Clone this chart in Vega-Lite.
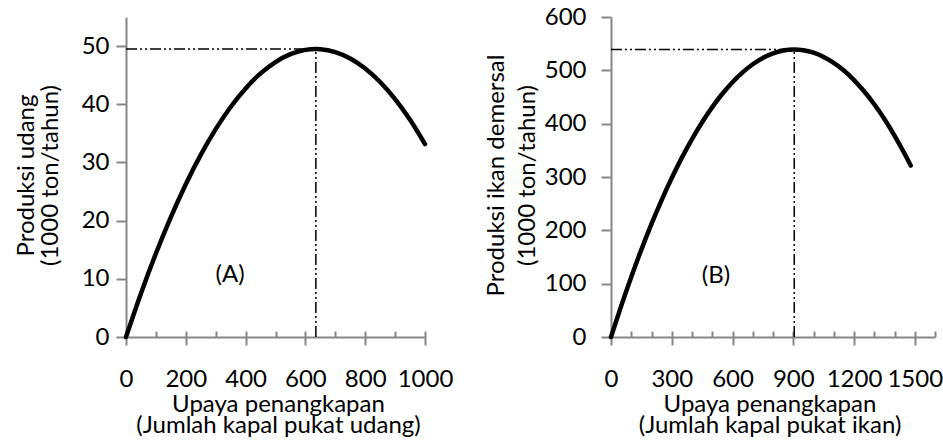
{
  "$schema": "https://vega.github.io/schema/vega-lite/v6.json",
  "background": "white",
  "padding": {"left": 14, "top": 5, "right": 5, "bottom": 5},
  "bounds": "flush",
  "spacing": 186,
  "config": {
    "font": "Lato",
    "view": {"stroke": null},
    "axis": {
      "labelFont": "Lato", "labelFontSize": 24, "labelColor": "#000000",
      "titleFont": "Lato", "titleFontSize": 24, "titleColor": "#000000", "titleFontWeight": "normal",
      "domainColor": "#868686", "domainWidth": 2, "tickColor": "#868686", "tickWidth": 2,
      "grid": false, "labelFlush": false, "labelOverlap": false, "labelBound": false, "format": "d"
    }
  },
  "datasets": {
    "shrimp": [
      {"E": 0, "Y": 0}, {"E": 50, "Y": 7.49}, {"E": 100, "Y": 14.36}, {"E": 150, "Y": 20.62},
      {"E": 200, "Y": 26.27}, {"E": 250, "Y": 31.3}, {"E": 300, "Y": 35.72}, {"E": 350, "Y": 39.53},
      {"E": 400, "Y": 42.72}, {"E": 450, "Y": 45.3}, {"E": 500, "Y": 47.26}, {"E": 550, "Y": 48.61},
      {"E": 600, "Y": 49.35}, {"E": 635, "Y": 49.5}, {"E": 650, "Y": 49.47}, {"E": 700, "Y": 48.98},
      {"E": 750, "Y": 47.88}, {"E": 800, "Y": 46.16}, {"E": 850, "Y": 43.83}, {"E": 900, "Y": 40.88},
      {"E": 950, "Y": 37.32}, {"E": 1000, "Y": 33.15}
    ],
    "fish": [
      {"E": 0, "Y": 0}, {"E": 50, "Y": 57.91}, {"E": 100, "Y": 112.54}, {"E": 150, "Y": 163.87},
      {"E": 200, "Y": 211.92}, {"E": 250, "Y": 256.67}, {"E": 300, "Y": 298.13}, {"E": 350, "Y": 336.3},
      {"E": 400, "Y": 371.18}, {"E": 450, "Y": 402.77}, {"E": 500, "Y": 431.07}, {"E": 550, "Y": 456.08},
      {"E": 600, "Y": 477.8}, {"E": 650, "Y": 496.22}, {"E": 700, "Y": 511.36}, {"E": 750, "Y": 523.21},
      {"E": 800, "Y": 531.76}, {"E": 850, "Y": 537.03}, {"E": 905, "Y": 539.02}, {"E": 950, "Y": 537.69},
      {"E": 1000, "Y": 533.08}, {"E": 1050, "Y": 525.18}, {"E": 1100, "Y": 513.99}, {"E": 1150, "Y": 499.52},
      {"E": 1200, "Y": 481.75}, {"E": 1250, "Y": 460.69}, {"E": 1300, "Y": 436.34}, {"E": 1350, "Y": 408.7},
      {"E": 1400, "Y": 377.76}, {"E": 1450, "Y": 343.54}, {"E": 1480, "Y": 321.46}
    ],
    "shrimpRef": [{"x": 0, "x2": 635, "y": 49.5, "y2": 49.5}, {"x": 635, "x2": 635, "y": 0, "y2": 49.5}],
    "fishRef": [{"x": 0, "x2": 905, "y": 539, "y2": 539}, {"x": 905, "x2": 905, "y": 0, "y2": 539}],
    "shrimpLabel": [{"x": 348, "y": 10.7, "label": "(A)"}],
    "fishLabel": [{"x": 518, "y": 114.5, "label": "(B)"}]
  },
  "hconcat": [
    {
      "width": 299,
      "height": 320,
      "resolve": {"axis": {"x": "independent"}},
      "layer": [
        {
          "data": {"name": "shrimp"},
          "mark": {"type": "line", "color": "#000000", "strokeWidth": 4.5, "interpolate": "monotone", "strokeCap": "round"},
          "encoding": {
            "x": {"field": "E", "type": "quantitative", "scale": {"domain": [0, 1000], "nice": false},
              "axis": {"orient": "bottom", "values": [0, 200, 400, 600, 800, 1000], "tickSize": 8, "labelPadding": 22,
                "title": ["Upaya penangkapan", "(Jumlah kapal pukat udang)"], "titleX": 152, "titleY": 74,
                "titleAlign": "center", "titleBaseline": "alphabetic", "titleLineHeight": 21}},
            "y": {"field": "Y", "type": "quantitative", "scale": {"domain": [0, 55], "nice": false},
              "axis": {"values": [0, 10, 20, 30, 40, 50], "tickSize": 10, "labelPadding": 7,
                "title": ["Produksi udang", "(1000 ton/tahun)"], "titleAngle": -90, "titleX": -93, "titleY": 158,
                "titleAlign": "center", "titleBaseline": "alphabetic", "titleLineHeight": 24.5}}
          }
        },
        {
          "data": {"name": "shrimpRef"},
          "mark": {"type": "rule", "color": "#000000", "strokeWidth": 1.5, "strokeDash": [11, 3, 2, 3, 2, 3]},
          "encoding": {
            "x": {"field": "x", "type": "quantitative", "axis": null},
            "x2": {"field": "x2"},
            "y": {"field": "y", "type": "quantitative"},
            "y2": {"field": "y2"}
          }
        },
        {
          "data": {"name": "shrimpLabel"},
          "mark": {"type": "text", "fontSize": 24, "font": "Lato", "color": "#000000"},
          "encoding": {
            "x": {"field": "x", "type": "quantitative",
              "axis": {"orient": "bottom", "values": [0, 100, 200, 300, 400, 500, 600, 700, 800, 900, 1000], "tickSize": -6,
                "labels": false, "domain": false, "title": null}},
            "y": {"field": "y", "type": "quantitative"},
            "text": {"field": "label"}
          }
        }
      ]
    },
    {
      "width": 324,
      "height": 320,
      "resolve": {"axis": {"x": "independent"}},
      "layer": [
        {
          "data": {"name": "fish"},
          "mark": {"type": "line", "color": "#000000", "strokeWidth": 4.5, "interpolate": "monotone", "strokeCap": "round"},
          "encoding": {
            "x": {"field": "E", "type": "quantitative", "scale": {"domain": [0, 1600], "nice": false},
              "axis": {"orient": "bottom", "values": [0, 300, 600, 900, 1200, 1500], "tickSize": 8, "labelPadding": 22,
                "title": ["Upaya penangkapan", "(Jumlah kapal pukat ikan)"], "titleX": 158.5, "titleY": 74,
                "titleAlign": "center", "titleBaseline": "alphabetic", "titleLineHeight": 21}},
            "y": {"field": "Y", "type": "quantitative", "scale": {"domain": [0, 600], "nice": false},
              "axis": {"values": [0, 100, 200, 300, 400, 500, 600], "tickSize": 10, "labelPadding": 15,
                "title": ["Produksi ikan demersal", "(1000 ton/tahun)"], "titleAngle": -90, "titleX": -108, "titleY": 158,
                "titleAlign": "center", "titleBaseline": "alphabetic", "titleLineHeight": 31.5}}
          }
        },
        {
          "data": {"name": "fishRef"},
          "mark": {"type": "rule", "color": "#000000", "strokeWidth": 1.5, "strokeDash": [11, 3, 2, 3, 2, 3]},
          "encoding": {
            "x": {"field": "x", "type": "quantitative", "axis": null},
            "x2": {"field": "x2"},
            "y": {"field": "y", "type": "quantitative"},
            "y2": {"field": "y2"}
          }
        },
        {
          "data": {"name": "fishLabel"},
          "mark": {"type": "text", "fontSize": 24, "font": "Lato", "color": "#000000"},
          "encoding": {
            "x": {"field": "x", "type": "quantitative",
              "axis": {"orient": "bottom", "values": [0, 100, 200, 300, 400, 500, 600, 700, 800, 900, 1000, 1100, 1200, 1300, 1400, 1500, 1600], "tickSize": -6,
                "labels": false, "domain": false, "title": null}},
            "y": {"field": "y", "type": "quantitative"},
            "text": {"field": "label"}
          }
        }
      ]
    }
  ]
}
